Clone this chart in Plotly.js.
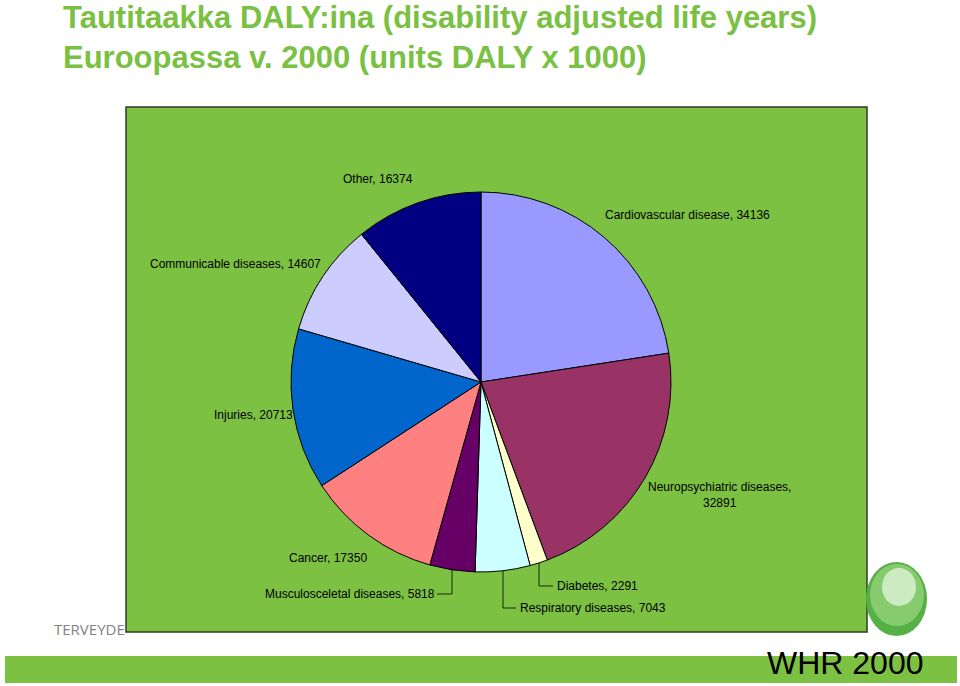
<!DOCTYPE html>
<html>
<head>
<meta charset="utf-8">
<script src="https://cdn.plot.ly/plotly-3.0.1.min.js"></script>
<style>html,body{margin:0;padding:0;background:#fff;}#chart{width:960px;height:686px;}</style>
</head>
<body>
<div id="chart"></div>
<script>
// Data (units DALY x 1000), clockwise from 12 o'clock
const labels = ["Cardiovascular disease", "Neuropsychiatric diseases", "Diabetes", "Respiratory diseases",
                "Musculosceletal diseases", "Cancer", "Injuries", "Communicable diseases", "Other"];
const values = [34136, 32891, 2291, 7043, 5818, 17350, 20713, 14607, 16374];
const colors = ["#9999FF", "#993366", "#FFFFCC", "#CCFFFF", "#660066", "#FF8080", "#0066CC", "#CCCCFF", "#000080"];

const W = 960, H = 686;
const px = x => x / W;
const py = y => 1 - y / H;
const GREEN = "#7CC142";

// label placement (pixels): [x, y, xanchor]
const labelPos = [
  [687, 215, "center"],
  [719, 495, "center"],
  [555, 586, "left"],
  [518, 608, "left"],
  [437, 594, "right"],
  [328, 558, "center"],
  [253, 415, "center"],
  [235, 264, "center"],
  [378, 179, "center"]
];

const annotations = labels.map((lab, i) => {
  let txt = lab + ", " + values[i];
  if (i === 1) txt = lab + ",<br>" + values[i];
  return {
    text: txt, xref: "paper", yref: "paper",
    x: px(labelPos[i][0]), y: py(labelPos[i][1]),
    xanchor: labelPos[i][2], yanchor: "middle", showarrow: false,
    font: {family: "Liberation Sans, Arial, sans-serif", size: 12, color: "#000"}
  };
});
annotations.push({
  text: "WHR 2000", xref: "paper", yref: "paper", x: px(926), y: py(663),
  xanchor: "right", yanchor: "middle", showarrow: false,
  font: {family: "Liberation Sans, Arial, sans-serif", size: 32, color: "#000"}
});
annotations.push({
  text: "TERVEYDE", xref: "paper", yref: "paper", x: px(127), y: py(629),
  xanchor: "right", yanchor: "middle", showarrow: false,
  font: {family: "Open Sans, sans-serif", size: 15, color: "#808285"}
});

function path(pts) {
  return pts.map((p, k) => (k ? "L" : "M") + px(p[0]) + "," + py(p[1])).join(" ");
}
const leaderStyle = {color: "#000", width: 0.8};
const shapes = [
  {type: "rect", xref: "paper", yref: "paper", x0: px(5), x1: px(957), y0: py(683), y1: py(656),
   fillcolor: GREEN, line: {width: 0}, layer: "below"},
  {type: "rect", xref: "paper", yref: "paper", x0: px(126), x1: px(867), y0: py(632), y1: py(107),
   fillcolor: GREEN, line: {color: "#2f3a2a", width: 1.5}, layer: "below"},
  // logo sphere
  {type: "circle", xref: "paper", yref: "paper", x0: px(866), x1: px(927), y0: py(636), y1: py(562),
   fillcolor: "#55B046", line: {width: 0}, layer: "below"},
  {type: "circle", xref: "paper", yref: "paper", x0: px(870), x1: px(924), y0: py(626), y1: py(564),
   fillcolor: "#86CC6E", line: {width: 0}, layer: "below"},
  {type: "circle", xref: "paper", yref: "paper", x0: px(882), x1: px(916), y0: py(606), y1: py(568),
   fillcolor: "#CDEBC2", line: {width: 0}, layer: "below"},
  // leader lines
  {type: "path", xref: "paper", yref: "paper", path: path([[437, 594], [452, 594], [452, 570]]), line: leaderStyle},
  {type: "path", xref: "paper", yref: "paper", path: path([[539, 563], [539, 586], [553, 586]]), line: leaderStyle},
  {type: "path", xref: "paper", yref: "paper", path: path([[503, 571], [503, 608], [516, 608]]), line: leaderStyle}
];

const R = 190, CX = 481, CY = 382;
const data = [{
  type: "pie", labels: labels, values: values, sort: false, direction: "clockwise", rotation: 0,
  marker: {colors: colors, line: {color: "#000", width: 1}},
  textinfo: "none", hoverinfo: "label+value", showlegend: false,
  domain: {x: [px(CX - R), px(CX + R)], y: [py(CY + R), py(CY - R)]}
}];

const layout = {
  width: W, height: H, margin: {l: 0, r: 0, t: 0, b: 0},
  paper_bgcolor: "#ffffff",
  title: {
    text: "Tautitaakka DALY:ina (disability adjusted life years)<br>Euroopassa v. 2000 (units DALY x 1000)",
    xref: "paper", yref: "paper", x: px(63), xanchor: "left", y: py(28), yanchor: "top",
    font: {family: "Liberation Sans Narrow, Arial Narrow, Liberation Sans, sans-serif", size: 31, color: "#7AC143", weight: "bold"}
  },
  shapes: shapes, annotations: annotations, showlegend: false
};

Plotly.newPlot("chart", data, layout, {displayModeBar: false, staticPlot: true});
</script>
</body>
</html>
